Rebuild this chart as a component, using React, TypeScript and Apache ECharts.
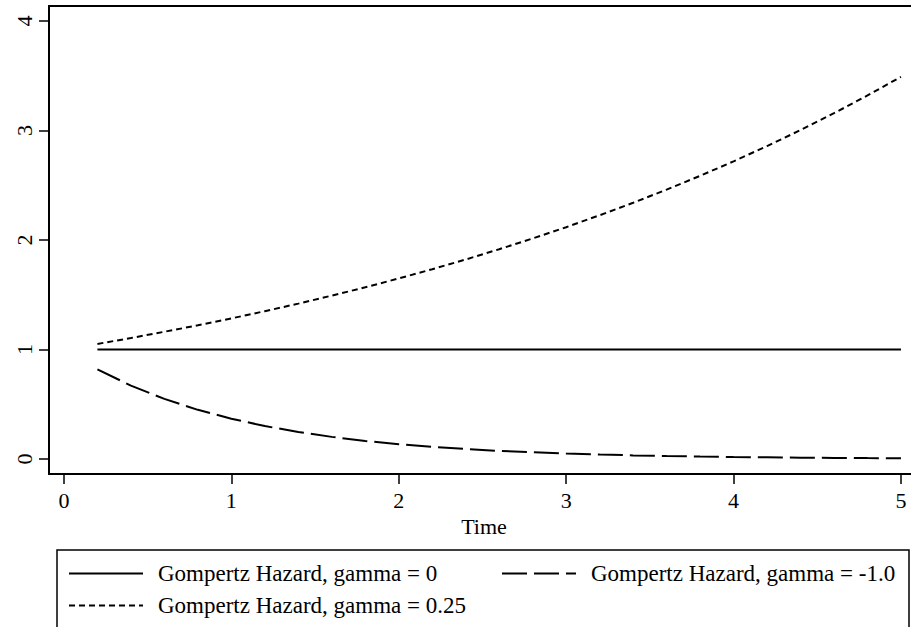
import React, { useEffect, useRef } from "react";
import * as echarts from "echarts";

// Time grid for the hazard curves
const times = [
  0.2, 0.4, 0.6, 0.8, 1.0, 1.2, 1.4, 1.6, 1.8, 2.0, 2.2, 2.4, 2.6, 2.8, 3.0,
  3.2, 3.4, 3.6, 3.8, 4.0, 4.2, 4.4, 4.6, 4.8, 5.0,
];

// Hazard values for each gamma
const hazardGamma0 = [
  1, 1, 1, 1, 1, 1, 1, 1, 1, 1, 1, 1, 1, 1, 1, 1, 1, 1, 1, 1, 1, 1, 1, 1, 1,
];
const hazardGammaNeg1 = [
  0.819, 0.67, 0.549, 0.449, 0.368, 0.301, 0.247, 0.202, 0.165, 0.135, 0.111,
  0.091, 0.074, 0.061, 0.05, 0.041, 0.033, 0.027, 0.022, 0.018, 0.015, 0.012,
  0.01, 0.008, 0.007,
];
const hazardGamma025 = [
  1.051, 1.105, 1.162, 1.221, 1.284, 1.35, 1.419, 1.492, 1.568, 1.649, 1.733,
  1.822, 1.916, 2.014, 2.117, 2.226, 2.34, 2.46, 2.586, 2.718, 2.858, 3.004,
  3.158, 3.32, 3.49,
];

const seriesNames = [
  "Gompertz Hazard, gamma = 0",
  "Gompertz Hazard, gamma = -1.0",
  "Gompertz Hazard, gamma = 0.25",
];

const xTicks = [0, 1, 2, 3, 4, 5];
const yTicks = [0, 1, 2, 3, 4];

const FONT = "'Liberation Serif', 'Times New Roman', serif";

const pair = (vals: number[]) => times.map((t, i) => [t, vals[i]]);

export default function App() {
  const ref = useRef<HTMLDivElement>(null);

  useEffect(() => {
    document.body.style.margin = "0";
    if (!ref.current) return;
    const chart = echarts.init(ref.current, undefined, { renderer: "svg" });

    const legendBase = {
      orient: "horizontal" as const,
      padding: 0,
      itemWidth: 74,
      itemHeight: 14,
      selectedMode: false,
      itemStyle: { opacity: 0 },
      textStyle: {
        fontFamily: FONT,
        fontSize: 23,
        color: "#000",
        padding: [0, 0, 0, 10],
      },
    };

    const lineSeries = (name: string, vals: number[], type: any) => ({
      name,
      type: "line",
      data: pair(vals),
      showSymbol: false,
      symbol: "none",
      smooth: false,
      lineStyle: { color: "#000", width: 2, type },
      itemStyle: { color: "#000" },
    });

    const axisLineStyle = { color: "#000", width: 2 };

    chart.setOption({
      animation: false,
      backgroundColor: "#fff",
      grid: {
        left: 49,
        top: 6,
        right: -3,
        bottom: 153,
        show: false,
      },
      xAxis: [
        {
          type: "value",
          min: -0.0893,
          max: 5.06,
          name: "Time",
          nameLocation: "middle",
          nameGap: 40,
          nameTextStyle: {
            fontFamily: FONT,
            fontSize: 22,
            color: "#000",
            padding: [0, 0, 0, 8],
          },
          splitLine: { show: false },
          axisLine: { show: true, onZero: false, lineStyle: axisLineStyle },
          axisTick: {
            show: true,
            length: 10,
            customValues: xTicks,
            lineStyle: { color: "#000", width: 1.5 },
          },
          axisLabel: {
            customValues: xTicks,
            fontFamily: FONT,
            fontSize: 22,
            color: "#000",
            margin: 15,
          },
        },
        {
          // top frame line of the plot region
          type: "value",
          position: "top",
          min: -0.0893,
          max: 5.06,
          splitLine: { show: false },
          axisLine: { show: true, onZero: false, lineStyle: axisLineStyle },
          axisTick: { show: false },
          axisLabel: { show: false },
        },
      ],
      yAxis: {
        type: "value",
        min: -0.137,
        max: 4.137,
        splitLine: { show: false },
        axisLine: { show: true, onZero: false, lineStyle: axisLineStyle },
        axisTick: {
          show: true,
          length: 10,
          customValues: yTicks,
          lineStyle: { color: "#000", width: 1.5 },
        },
        axisLabel: {
          customValues: yTicks,
          rotate: 90,
          fontFamily: FONT,
          fontSize: 22,
          color: "#000",
          margin: 14,
        },
      },
      legend: [
        { ...legendBase, data: [seriesNames[0]], left: 68, top: 562 },
        { ...legendBase, data: [seriesNames[1]], left: 501, top: 562 },
        { ...legendBase, data: [seriesNames[2]], left: 68, top: 594 },
      ],
      graphic: [
        {
          type: "rect",
          shape: { x: 57, y: 550, width: 852, height: 78 },
          style: { fill: "none", stroke: "#000", lineWidth: 1.5 },
          silent: true,
        },
      ],
      series: [
        lineSeries(seriesNames[0], hazardGamma0, "solid"),
        lineSeries(seriesNames[1], hazardGammaNeg1, [25, 7]),
        lineSeries(seriesNames[2], hazardGamma025, [6, 4]),
      ],
    });

    return () => chart.dispose();
  }, []);

  return <div ref={ref} style={{ width: 911, height: 627 }} />;
}
